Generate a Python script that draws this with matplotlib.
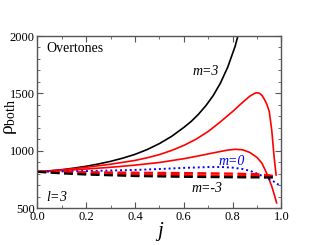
import matplotlib.pyplot as plt
from matplotlib.ticker import MultipleLocator

plt.rcParams['font.family'] = ['Liberation Serif', 'DejaVu Serif']
plt.rcParams['mathtext.fontset'] = 'custom'
plt.rcParams['mathtext.rm'] = 'Liberation Serif'
plt.rcParams['mathtext.it'] = 'Liberation Serif:italic'

# values
j_m3 = [0.0, 0.05, 0.1, 0.15, 0.2, 0.25, 0.3, 0.35, 0.4, 0.45, 0.5, 0.55, 0.6,
        0.63, 0.66, 0.69, 0.72, 0.75, 0.78, 0.81, 0.84]
rho_m3 = [816, 824, 834, 848, 864, 884, 907, 935, 968, 1010, 1062, 1125, 1203,
          1255, 1318, 1392, 1480, 1590, 1730, 1910, 2150]

j_m2 = [0.0, 0.1, 0.2, 0.3, 0.4, 0.45, 0.5, 0.55, 0.6, 0.65, 0.7, 0.75, 0.8,
        0.84, 0.87, 0.89, 0.9, 0.91, 0.92, 0.93, 0.94, 0.95, 0.96, 0.97, 0.978]
rho_m2 = [816, 832, 855, 882, 915, 938, 966, 1002, 1046, 1100, 1168, 1252, 1342,
          1420, 1475, 1500, 1505, 1500, 1482, 1448, 1405, 1340, 1180, 940, 788]

j_m1 = [0.0, 0.1, 0.2, 0.3, 0.4, 0.5, 0.6, 0.65, 0.7, 0.75, 0.78, 0.81, 0.84,
        0.87, 0.9, 0.92, 0.94, 0.96, 0.97, 0.98]
rho_m1 = [816, 827, 840, 855, 874, 897, 930, 950, 972, 993, 1005, 1012, 1008,
          985, 940, 890, 800, 690, 620, 545]

j_m0 = [0.0, 0.2, 0.4, 0.5, 0.6, 0.7, 0.76, 0.8, 0.84, 0.87, 0.9, 0.94, 0.97, 0.99]
rho_m0 = [816, 822, 832, 840, 850, 857, 857, 852, 840, 825, 800, 760, 729, 700]

j_neg = [0.0, 0.1, 0.2, 0.4, 0.6, 0.8, 0.9, 0.95, 0.97]
rho_mm1 = [816, 814, 812, 808, 805, 800, 795, 785, 778]
rho_mm2 = [816, 808, 802, 793, 786, 781, 779, 777, 776]
rho_mm3 = [816, 802, 792, 779, 772, 768, 767, 766, 766]

fig = plt.figure(figsize=(3.17, 2.45), dpi=100)
ax = fig.add_axes([0.118, 0.151, 0.77, 0.702])

ax.plot(j_m3, rho_m3, color='black', lw=1.2)
ax.plot(j_m2, rho_m2, color='red', lw=1.2)
ax.plot(j_m1, rho_m1, color='red', lw=1.2)
ax.plot(j_m0, rho_m0, color='blue', lw=1.4, ls=(0, (1, 1.5)))
ax.plot(j_neg, rho_mm1, color='red', lw=1.6, ls=(0, (4, 2)))
ax.plot(j_neg, rho_mm2, color='red', lw=1.6, ls=(0, (4, 2)))
ax.plot(j_neg, rho_mm3, color='black', lw=1.6, ls=(0, (4, 2)))

ax.set_xlim(0, 1)
ax.set_ylim(500, 2000)
ax.xaxis.set_major_locator(MultipleLocator(0.2))
ax.xaxis.set_minor_locator(MultipleLocator(0.1))
ax.yaxis.set_major_locator(MultipleLocator(500))
ax.yaxis.set_minor_locator(MultipleLocator(100))
ax.tick_params(which='both', direction='in', top=True, right=True,
               labelsize=9, pad=2, color='#555555')
ax.tick_params(which='major', length=4)
ax.tick_params(which='minor', length=2)
for s in ax.spines.values():
    s.set_color('#555555')
    s.set_linewidth(1.0)

ax.set_xlabel(r'$j$', fontsize=15, labelpad=-2)
ax.set_ylabel(r'ρ$_{\mathrm{both}}$', fontsize=14)
ax.yaxis.set_label_coords(-0.075, 0.53)

ax.text(0.035, 0.93, 'Overtones', transform=ax.transAxes, fontsize=10,
        va='center', ha='left')
ax.text(0.035, 0.065, r'$l$=3', transform=ax.transAxes, fontsize=10,
        va='center', ha='left', style='italic')
ax.text(0.635, 0.795, 'm=3', transform=ax.transAxes, fontsize=10,
        va='center', ha='left', style='italic')
ax.text(0.74, 0.27, 'm=0', transform=ax.transAxes, fontsize=10, color='blue',
        va='center', ha='left', style='italic')
ax.text(0.63, 0.115, 'm=-3', transform=ax.transAxes, fontsize=10,
        va='center', ha='left', style='italic')

fig.savefig('out.png', dpi=100)
